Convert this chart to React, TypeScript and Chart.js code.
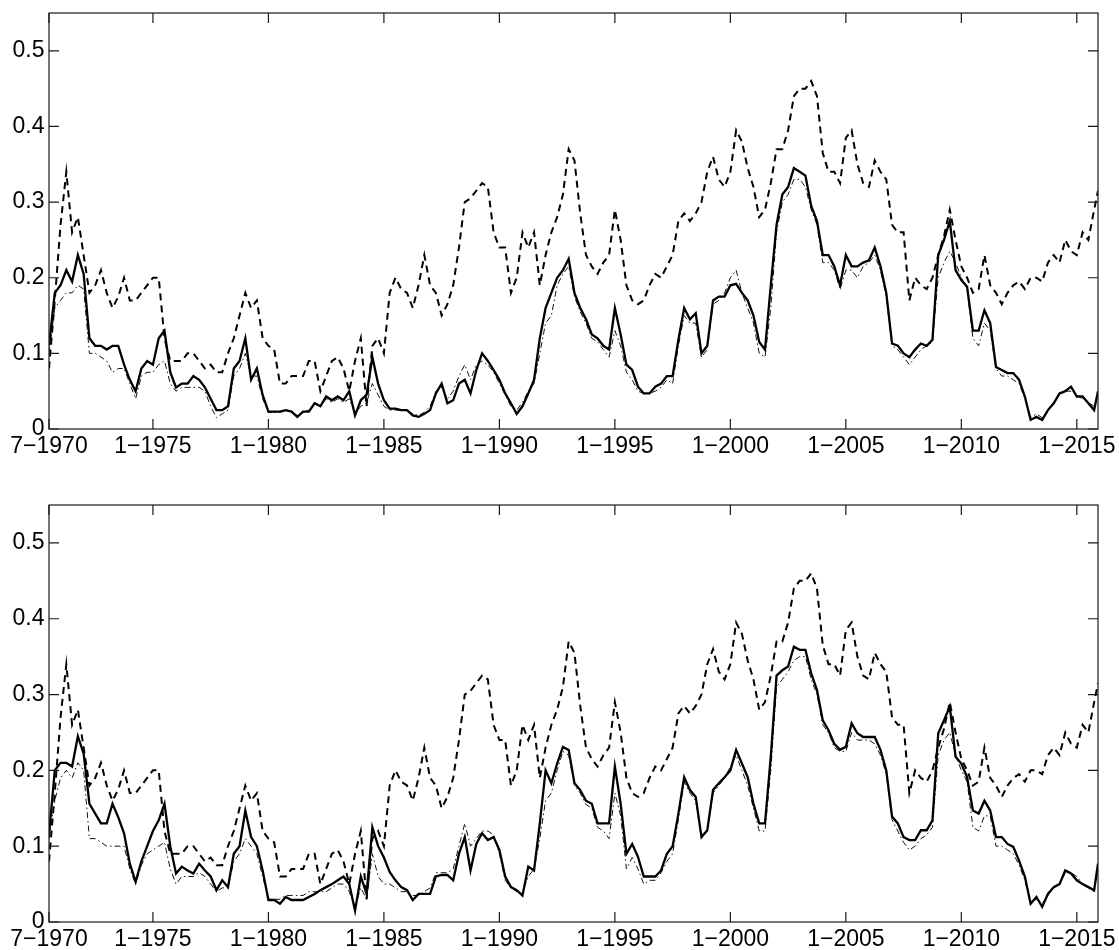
import React, { useEffect, useRef } from 'react';
import { Chart, registerables } from 'chart.js';

Chart.register(...registerables);

// Time grid: quarterly observations from 7-1970, plus the last month shown
const START_DATE = 1970.5;
const STEP = 0.25;
const N_QUARTERS = 182;
const END_DATE = 2015.917;
const DATES: number[] = Array.from({ length: N_QUARTERS }, (_, i) => START_DATE + STEP * i).concat([END_DATE]);

const X_MIN = 1970.5;
const X_MAX = 2015.917;
const X_TICKS = [1970.5, 1975, 1980, 1985, 1990, 1995, 2000, 2005, 2010, 2015];
const X_TICK_LABELS = ['7\u22121970', '1\u22121975', '1\u22121980', '1\u22121985', '1\u22121990', '1\u22121995', '1\u22122000', '1\u22122005', '1\u22122010', '1\u22122015'];
const Y_TICKS = [0, 0.1, 0.2, 0.3, 0.4, 0.5];
const Y_TICK_LABELS = ['0', '0.1', '0.2', '0.3', '0.4', '0.5'];
const Y_MAX = 0.55;

// Dashed series (same in both panels)
const DASHED = [
  0.08, 0.17, 0.27, 0.34, 0.26, 0.28, 0.23, 0.18, 0.19, 0.21,
  0.18, 0.16, 0.175, 0.2, 0.17, 0.17, 0.18, 0.19, 0.2, 0.2,
  0.12, 0.09, 0.09, 0.09, 0.1, 0.1, 0.09, 0.08, 0.085, 0.075,
  0.075, 0.1, 0.12, 0.15, 0.18, 0.16, 0.17, 0.12, 0.11, 0.105,
  0.06, 0.06, 0.07, 0.07, 0.07, 0.09, 0.09, 0.05, 0.07, 0.09,
  0.095, 0.08, 0.05, 0.09, 0.12, 0.03, 0.11, 0.12, 0.1, 0.18,
  0.2, 0.185, 0.18, 0.16, 0.19, 0.23, 0.19, 0.18, 0.15, 0.165,
  0.19, 0.24, 0.3, 0.305, 0.315, 0.325, 0.32, 0.26, 0.24, 0.24,
  0.18, 0.2, 0.26, 0.24, 0.26, 0.19, 0.23, 0.26, 0.28, 0.31,
  0.37, 0.355, 0.285, 0.23, 0.215, 0.205, 0.22, 0.23, 0.29, 0.25,
  0.19, 0.17, 0.165, 0.17, 0.19, 0.205, 0.2, 0.215, 0.23, 0.275,
  0.285, 0.275, 0.285, 0.3, 0.34, 0.36, 0.33, 0.32, 0.34, 0.395,
  0.38, 0.345, 0.32, 0.28, 0.29, 0.325, 0.37, 0.37, 0.395, 0.44,
  0.45, 0.45, 0.46, 0.44, 0.365, 0.34, 0.34, 0.325, 0.385, 0.395,
  0.35, 0.325, 0.32, 0.355, 0.34, 0.33, 0.27, 0.26, 0.26, 0.17,
  0.2, 0.19, 0.185, 0.2, 0.23, 0.255, 0.29, 0.25, 0.215, 0.2,
  0.18, 0.185, 0.23, 0.19, 0.18, 0.165, 0.18, 0.19, 0.195, 0.185,
  0.2, 0.2, 0.195, 0.22, 0.23, 0.22, 0.25, 0.235, 0.23, 0.26,
  0.25, 0.29, 0.315,
];

const SOLID_TOP = [
  0.11, 0.18, 0.19, 0.21, 0.195, 0.23, 0.205, 0.12, 0.11, 0.11,
  0.105, 0.11, 0.11, 0.085, 0.065, 0.05, 0.08, 0.09, 0.085, 0.12,
  0.13, 0.075, 0.055, 0.06, 0.06, 0.07, 0.065, 0.055, 0.04, 0.025,
  0.025, 0.03, 0.08, 0.09, 0.12, 0.065, 0.08, 0.045, 0.023, 0.023,
  0.023, 0.025, 0.023, 0.016, 0.023, 0.023, 0.034, 0.03, 0.043, 0.038,
  0.043, 0.038, 0.05, 0.018, 0.038, 0.045, 0.095, 0.06, 0.038, 0.027,
  0.027, 0.025, 0.025, 0.018, 0.016, 0.02, 0.025, 0.047, 0.06, 0.034,
  0.038, 0.06, 0.065, 0.047, 0.078, 0.1, 0.09, 0.078, 0.065, 0.047,
  0.034, 0.02, 0.03, 0.047, 0.065, 0.12, 0.16, 0.18, 0.2, 0.21,
  0.225, 0.18, 0.16, 0.145, 0.125, 0.12, 0.11, 0.105, 0.16, 0.125,
  0.085, 0.078, 0.056, 0.047, 0.047, 0.056, 0.06, 0.07, 0.07, 0.118,
  0.16, 0.145, 0.153, 0.1, 0.11, 0.17, 0.175, 0.175, 0.19, 0.192,
  0.18, 0.17, 0.15, 0.115, 0.105, 0.19, 0.27, 0.31, 0.32, 0.345,
  0.34, 0.335, 0.295, 0.275, 0.23, 0.23, 0.215, 0.19, 0.23, 0.215,
  0.215, 0.22, 0.223, 0.24, 0.215, 0.18, 0.113, 0.11, 0.1, 0.095,
  0.105, 0.113, 0.11, 0.118, 0.23, 0.25, 0.275, 0.21, 0.197, 0.188,
  0.13, 0.13, 0.157, 0.14, 0.082, 0.078, 0.074, 0.074, 0.065, 0.043,
  0.012, 0.016, 0.012, 0.025, 0.034, 0.047, 0.05, 0.056, 0.043, 0.043,
  0.034, 0.025, 0.05,
];

const DASHDOT_TOP = [
  0.1, 0.16, 0.17, 0.18, 0.18, 0.19, 0.185, 0.1, 0.1, 0.095,
  0.09, 0.075, 0.08, 0.08, 0.06, 0.04, 0.07, 0.075, 0.075, 0.085,
  0.09, 0.06, 0.05, 0.055, 0.055, 0.055, 0.055, 0.05, 0.03, 0.015,
  0.02, 0.025, 0.07, 0.08, 0.1, 0.07, 0.07, 0.04, 0.022, 0.022,
  0.022, 0.025, 0.022, 0.018, 0.022, 0.025, 0.035, 0.03, 0.04, 0.035,
  0.04, 0.035, 0.04, 0.02, 0.03, 0.035, 0.06, 0.045, 0.03, 0.025,
  0.025, 0.025, 0.025, 0.02, 0.018, 0.022, 0.03, 0.05, 0.055, 0.04,
  0.05, 0.07, 0.085, 0.065, 0.085, 0.09, 0.085, 0.075, 0.06, 0.045,
  0.03, 0.025, 0.035, 0.05, 0.06, 0.1, 0.14, 0.15, 0.19, 0.205,
  0.215, 0.175, 0.155, 0.14, 0.12, 0.115, 0.105, 0.095, 0.13, 0.11,
  0.075, 0.065, 0.05, 0.047, 0.047, 0.05, 0.055, 0.065, 0.06, 0.11,
  0.15, 0.14, 0.14, 0.095, 0.105, 0.165, 0.17, 0.18, 0.2, 0.21,
  0.18, 0.16, 0.14, 0.1, 0.095, 0.16, 0.26, 0.3, 0.31, 0.33,
  0.33, 0.32, 0.29, 0.27, 0.22, 0.22, 0.21, 0.185, 0.21, 0.21,
  0.2, 0.215, 0.22, 0.23, 0.21, 0.175, 0.11, 0.105, 0.095, 0.085,
  0.095, 0.105, 0.11, 0.115, 0.2, 0.22, 0.235, 0.22, 0.2, 0.185,
  0.12, 0.11, 0.14, 0.13, 0.08, 0.07, 0.07, 0.065, 0.06, 0.04,
  0.015, 0.02, 0.015, 0.025, 0.035, 0.045, 0.05, 0.05, 0.045, 0.04,
  0.035, 0.03, 0.045,
];

const SOLID_BOTTOM = [
  0.115, 0.2, 0.21, 0.21, 0.205, 0.245, 0.222, 0.156, 0.143, 0.13,
  0.13, 0.156, 0.138, 0.117, 0.077, 0.053, 0.08, 0.1, 0.12, 0.134,
  0.156, 0.1, 0.064, 0.073, 0.068, 0.064, 0.077, 0.068, 0.06, 0.042,
  0.055, 0.046, 0.09, 0.1, 0.147, 0.112, 0.1, 0.068, 0.029, 0.029,
  0.024, 0.033, 0.029, 0.029, 0.029, 0.033, 0.037, 0.042, 0.046, 0.05,
  0.055, 0.06, 0.05, 0.015, 0.06, 0.037, 0.125, 0.1, 0.085, 0.066,
  0.055, 0.046, 0.042, 0.029, 0.037, 0.037, 0.037, 0.06, 0.062, 0.062,
  0.055, 0.09, 0.112, 0.068, 0.103, 0.117, 0.108, 0.112, 0.095, 0.06,
  0.046, 0.042, 0.035, 0.073, 0.068, 0.13, 0.2, 0.183, 0.209, 0.231,
  0.227, 0.183, 0.174, 0.16, 0.156, 0.13, 0.13, 0.13, 0.205, 0.156,
  0.09, 0.103, 0.086, 0.06, 0.06, 0.06, 0.068, 0.09, 0.1, 0.143,
  0.191, 0.174, 0.165, 0.112, 0.121, 0.174, 0.183, 0.191, 0.2, 0.227,
  0.209, 0.191, 0.156, 0.13, 0.13, 0.218, 0.325, 0.332, 0.337, 0.363,
  0.359, 0.359, 0.328, 0.306, 0.266, 0.253, 0.235, 0.227, 0.231, 0.262,
  0.249, 0.244, 0.244, 0.244, 0.227, 0.2, 0.139, 0.13, 0.112, 0.108,
  0.108, 0.121, 0.121, 0.134, 0.249, 0.266, 0.284, 0.218, 0.209, 0.191,
  0.147, 0.143, 0.16, 0.147, 0.112, 0.112, 0.103, 0.099, 0.081, 0.06,
  0.024, 0.033, 0.02, 0.037, 0.046, 0.05, 0.068, 0.064, 0.055, 0.05,
  0.046, 0.042, 0.077,
];

const DASHDOT_BOTTOM = [
  0.11, 0.16, 0.19, 0.2, 0.19, 0.21, 0.2, 0.11, 0.11, 0.105,
  0.1, 0.1, 0.1, 0.1, 0.07, 0.05, 0.075, 0.09, 0.095, 0.1,
  0.105, 0.07, 0.05, 0.06, 0.06, 0.06, 0.065, 0.06, 0.05, 0.04,
  0.045, 0.045, 0.08, 0.09, 0.11, 0.1, 0.09, 0.06, 0.03, 0.03,
  0.03, 0.035, 0.035, 0.035, 0.035, 0.04, 0.04, 0.04, 0.04, 0.045,
  0.05, 0.05, 0.04, 0.02, 0.045, 0.03, 0.09, 0.06, 0.05, 0.05,
  0.045, 0.04, 0.04, 0.035, 0.035, 0.04, 0.045, 0.065, 0.065, 0.065,
  0.07, 0.1, 0.13, 0.1, 0.11, 0.12, 0.12, 0.115, 0.09, 0.055,
  0.045, 0.04, 0.04, 0.06, 0.07, 0.11, 0.16, 0.17, 0.2, 0.225,
  0.22, 0.18, 0.17, 0.155, 0.15, 0.125, 0.12, 0.11, 0.17, 0.14,
  0.07, 0.085, 0.07, 0.05, 0.055, 0.055, 0.065, 0.08, 0.09, 0.135,
  0.185, 0.17, 0.16, 0.11, 0.12, 0.17, 0.18, 0.19, 0.205, 0.22,
  0.2, 0.18, 0.15, 0.12, 0.12, 0.2, 0.31, 0.32, 0.33, 0.345,
  0.35, 0.35, 0.32, 0.3, 0.26, 0.25, 0.23, 0.225, 0.225, 0.25,
  0.24, 0.24, 0.24, 0.235, 0.22, 0.195, 0.135, 0.12, 0.105, 0.095,
  0.1, 0.11, 0.115, 0.125, 0.22, 0.24, 0.25, 0.22, 0.2, 0.185,
  0.125, 0.12, 0.14, 0.14, 0.1, 0.1, 0.095, 0.09, 0.075, 0.055,
  0.025, 0.03, 0.025, 0.035, 0.045, 0.05, 0.065, 0.065, 0.06, 0.05,
  0.045, 0.04, 0.07,
];

const FONT_FAMILY = '"Liberation Sans", Arial, Helvetica, sans-serif';
const FONT_SIZE = 23;

const framePlugin = {
  id: 'matlabFrame',
  afterDraw(chart: any) {
    const { ctx, chartArea: a, scales } = chart;
    const L = 10;
    ctx.save();
    ctx.strokeStyle = '#1a1a1a';
    ctx.lineWidth = 1.2;
    ctx.strokeRect(a.left, a.top, a.right - a.left, a.bottom - a.top);
    ctx.beginPath();
    for (const v of X_TICKS) {
      const x = scales.x.getPixelForValue(v);
      ctx.moveTo(x, a.bottom);
      ctx.lineTo(x, a.bottom - L);
      ctx.moveTo(x, a.top);
      ctx.lineTo(x, a.top + L);
    }
    for (const v of Y_TICKS) {
      const y = scales.y.getPixelForValue(v);
      ctx.moveTo(a.left, y);
      ctx.lineTo(a.left + L, y);
      ctx.moveTo(a.right, y);
      ctx.lineTo(a.right - L, y);
    }
    ctx.stroke();
    ctx.restore();
  },
};

const toPoints = (vals: number[]) => DATES.map((d, i) => ({ x: d, y: vals[i] }));

type PanelProps = {
  solid: number[];
  dashdot: number[];
  dashed: number[];
  height: number;
  plotTop: number;
  plotBottom: number;
};

function Panel({ solid, dashdot, dashed, height, plotTop, plotBottom }: PanelProps) {
  const ref = useRef<HTMLCanvasElement | null>(null);
  useEffect(() => {
    if (!ref.current) return;
    const chart = new Chart(ref.current, {
      type: 'line',
      data: {
        datasets: [
          {
            data: toPoints(solid),
            borderColor: '#000',
            borderWidth: 2.3,
            pointRadius: 0,
            tension: 0,
            fill: false,
          },
          {
            data: toPoints(dashed),
            borderColor: '#000',
            borderWidth: 2,
            borderDash: [7, 5],
            pointRadius: 0,
            tension: 0,
            fill: false,
          },
          {
            data: toPoints(dashdot),
            borderColor: '#111',
            borderWidth: 1,
            borderDash: [6, 3, 1.5, 3],
            pointRadius: 0,
            tension: 0,
            fill: false,
          },
        ],
      },
      options: {
        responsive: false,
        animation: false,
        events: [],
        layout: { padding: { top: plotTop, right: 21, left: 0, bottom: 0 } },
        plugins: { legend: { display: false }, tooltip: { enabled: false }, title: { display: false } },
        scales: {
          x: {
            type: 'linear',
            min: X_MIN,
            max: X_MAX,
            grid: { display: false, drawTicks: false },
            border: { display: false },
            ticks: {
              autoSkip: false,
              maxRotation: 0,
              minRotation: 0,
              padding: 4,
              color: '#000',
              font: { family: FONT_FAMILY, size: FONT_SIZE },
              callback: (v: any) => {
                const idx = X_TICKS.indexOf(Number(v));
                return idx >= 0 ? X_TICK_LABELS[idx] : '';
              },
            },
            afterBuildTicks: (scale: any) => {
              scale.ticks = X_TICKS.map((v) => ({ value: v }));
            },
            afterFit: (scale: any) => {
              scale.height = height - plotBottom;
              scale.paddingLeft = 0;
              scale.paddingRight = 0;
            },
          },
          y: {
            type: 'linear',
            min: 0,
            max: Y_MAX,
            grid: { display: false, drawTicks: false },
            border: { display: false },
            ticks: {
              padding: 4.5,
              color: '#000',
              font: { family: FONT_FAMILY, size: FONT_SIZE },
              callback: (v: any) => {
                const idx = Y_TICKS.findIndex((t) => Math.abs(t - Number(v)) < 1e-9);
                return idx >= 0 ? Y_TICK_LABELS[idx] : '';
              },
            },
            afterBuildTicks: (scale: any) => {
              scale.ticks = Y_TICKS.map((v) => ({ value: v }));
            },
            afterFit: (scale: any) => {
              scale.width = 49;
              scale.paddingTop = 0;
              scale.paddingBottom = 0;
            },
          },
        },
      },
      plugins: [framePlugin],
    });
    return () => chart.destroy();
  }, [solid, dashdot, dashed, height, plotTop, plotBottom]);
  return <canvas ref={ref} width={1119} height={height} style={{ display: 'block', width: 1119, height }} />;
}

export default function App() {
  return (
    <div style={{ position: 'absolute', left: 0, top: 0, width: 1119, height: 950, background: '#fff' }}>
      <div style={{ position: 'absolute', left: 0, top: 0 }}>
        <Panel solid={SOLID_TOP} dashdot={DASHDOT_TOP} dashed={DASHED} height={470} plotTop={13} plotBottom={429} />
      </div>
      <div style={{ position: 'absolute', left: 0, top: 470 }}>
        <Panel solid={SOLID_BOTTOM} dashdot={DASHDOT_BOTTOM} dashed={DASHED} height={480} plotTop={35} plotBottom={452} />
      </div>
    </div>
  );
}
